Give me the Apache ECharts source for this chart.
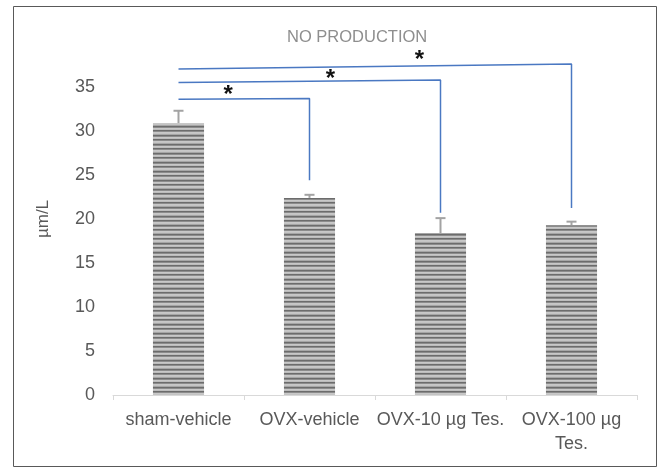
<!DOCTYPE html>
<html>
<head>
<meta charset="utf-8">
<script src="https://cdn.jsdelivr.net/npm/echarts@6/dist/echarts.min.js"></script>
<style>html,body{margin:0;padding:0;background:#fff}#c{width:659px;height:474px}</style>
</head>
<body>
<div id="c"></div>
<script>
var categories = ['sham-vehicle', 'OVX-vehicle', 'OVX-10 µg Tes.', 'OVX-100 µg Tes.'];
var means = [30.9, 22.4, 18.4, 19.3];
var errUpper = [32.3, 22.75, 20.1, 19.7];
var yTicks = [0, 5, 10, 15, 20, 25, 30, 35];
// significance brackets: [fromIndex, toIndex, yLeft, yRight, yBottom]
var brackets = [
  [0, 1, 33.6, 33.7, 24.4],
  [0, 2, 35.5, 35.8, 20.7],
  [0, 3, 37.05, 37.6, 21.25]
];
// star marks: [x (category units), y]
var stars = [[0.38, 34.6], [1.16, 36.4], [1.84, 38.6]];

var pc = document.createElement('canvas');
pc.width = 4; pc.height = 9;
var pctx = pc.getContext('2d');
var rows = ['#6c6c6c', '#8c8c8c', '#c8c8c8', '#bcbcbc', '#6c6c6c', '#8c8c8c', '#c8c8c8', '#c4c4c4', '#a6a6a6'];
for (var i = 0; i < rows.length; i++) { pctx.fillStyle = rows[i]; pctx.fillRect(0, i, 4, 1); }

function wrapLabel(s) {
  if (s.length <= 14) return s;
  var k = s.lastIndexOf(' ');
  return s.slice(0, k) + '\n' + s.slice(k + 1);
}

var chart = echarts.init(document.getElementById('c'));
var series = [{
  type: 'bar',
  data: means,
  barCategoryGap: '61%',
  itemStyle: { color: { image: pc, repeat: 'repeat' } },
  silent: true
}, {
  type: 'custom',
  data: errUpper.map(function (v, i) { return [i, means[i], v]; }),
  renderItem: function (params, api) {
    var lo = api.coord([api.value(0), api.value(1)]);
    var hi = api.coord([api.value(0), api.value(2)]);
    var s = { stroke: '#a3a3a3', lineWidth: 2 };
    return { type: 'group', children: [
      { type: 'line', shape: { x1: lo[0], y1: lo[1], x2: hi[0], y2: hi[1] }, style: s },
      { type: 'line', shape: { x1: hi[0] - 5, y1: hi[1], x2: hi[0] + 5, y2: hi[1] }, style: s }
    ] };
  },
  z: 5, silent: true
}];
brackets.forEach(function (b) {
  series.push({
    type: 'line', xAxisIndex: 1, yAxisIndex: 0, symbol: 'none', silent: true,
    lineStyle: { color: '#4a78c2', width: 1.5 },
    data: [[b[0], b[2]], [b[1], b[3]], [b[1], b[4]]], z: 6
  });
});
series.push({
  type: 'custom', xAxisIndex: 1, yAxisIndex: 0, data: stars, silent: true, z: 7,
  renderItem: function (params, api) {
    var p = api.coord([api.value(0), api.value(1)]);
    return { type: 'text', x: p[0], y: p[1] + 5, style: { text: '*', fill: '#111', font: 'bold 24px "Liberation Sans"', align: 'center', verticalAlign: 'middle' } };
  }
});

chart.setOption({
  animation: false,
  title: { text: 'NO PRODUCTION', left: 282, top: 24, textStyle: { color: '#8e8e8e', fontSize: 16.5, fontWeight: 'normal', fontFamily: 'Liberation Sans' } },
  grid: { left: 113, right: 22, top: 43, bottom: 79 },
  xAxis: [{
    type: 'category', data: categories,
    axisLine: { lineStyle: { color: '#d9d9d9', width: 1 } },
    axisTick: { show: true, length: 5, lineStyle: { color: '#d9d9d9' } },
    axisLabel: { color: '#595959', fontSize: 18, fontFamily: 'Liberation Sans', margin: 13, interval: 0, lineHeight: 24, formatter: wrapLabel }
  }, {
    type: 'value', min: -0.5, max: 3.5, show: false
  }],
  yAxis: {
    type: 'value', min: 0, max: 40, interval: 5,
    name: 'µm/L', nameLocation: 'middle', nameGap: 61, nameRotate: 90,
    nameTextStyle: { color: '#595959', fontSize: 17, fontFamily: 'Liberation Sans' },
    axisLine: { show: false }, axisTick: { show: false }, splitLine: { show: false },
    axisLabel: { color: '#595959', fontSize: 18, fontFamily: 'Liberation Sans', margin: 18,
      formatter: function (v) { return yTicks.indexOf(v) >= 0 ? String(v) : ''; } }
  },
  graphic: [{ type: 'rect', shape: { x: 13.5, y: 6.5, width: 643, height: 460 }, style: { fill: 'none', stroke: '#595959', lineWidth: 1 }, silent: true }],
  series: series
});
</script>
</body>
</html>
